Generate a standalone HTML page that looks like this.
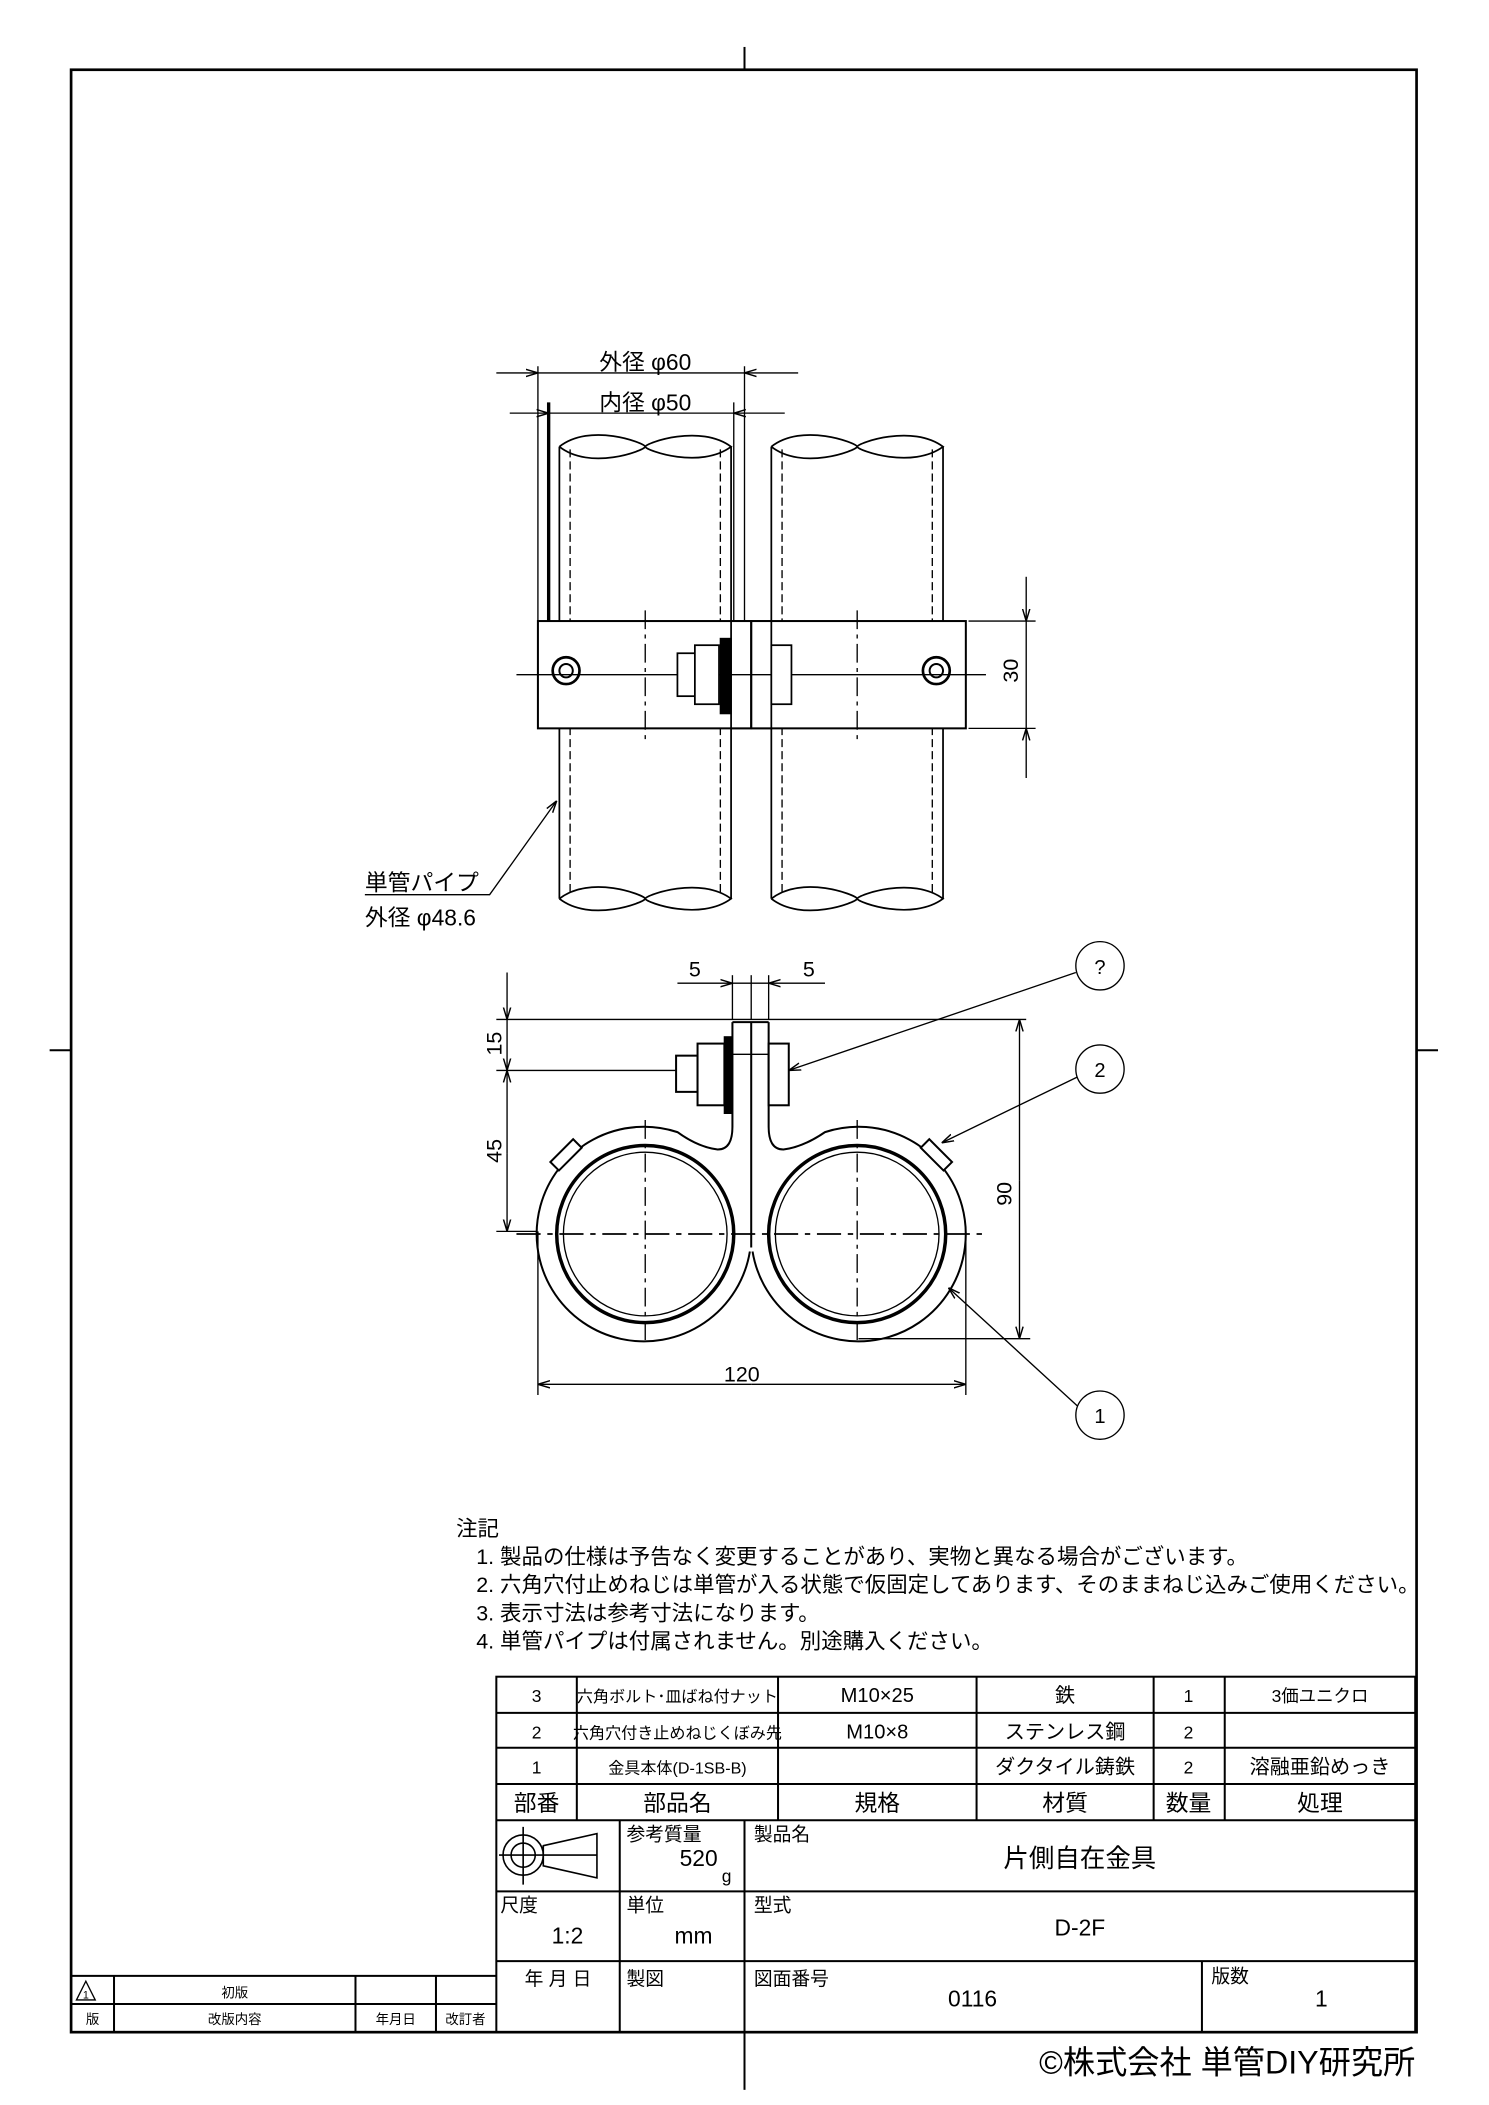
<!DOCTYPE html>
<html><head><meta charset="utf-8"><style>
html,body{margin:0;padding:0;background:#fff}
svg{display:block}
text{font-family:"Liberation Sans","Noto Sans CJK JP",sans-serif;fill:#000}
</style></head><body>
<svg width="1489" height="2105" viewBox="0 0 1110 1569.3" preserveAspectRatio="none" xmlns="http://www.w3.org/2000/svg">
<defs>
<marker id="a" viewBox="0 0 10 10" refX="10" refY="5" markerWidth="9" markerHeight="9" orient="auto-start-reverse" markerUnits="userSpaceOnUse"><path d="M0,2 L10,5 L0,8" fill="none" stroke="#000" stroke-width="1.2"/></marker>
</defs>
<g fill="none" stroke="#000">
<!-- frame -->
<rect x="53" y="52" width="1003" height="1463" stroke-width="2"/>
<line x1="555" y1="35" x2="555" y2="52" stroke-width="1.5"/>
<line x1="555" y1="1515" x2="555" y2="1558" stroke-width="1.5"/>
<line x1="37" y1="783" x2="53" y2="783" stroke-width="1.5"/>
<line x1="1056" y1="783" x2="1072" y2="783" stroke-width="1.5"/>

<!-- upper view pipes -->
<g stroke-width="1.3">
<path d="M417,333 L417,670 M545,333 L545,670 M575,333 L575,670 M703,333 L703,670"/>
<path d="M417,333 C440,315 480,330 481,333 C482,336 522,350 545,333 C522,316 482,330 481,333 C480,336 440,351 417,333"/>
<path d="M575,333 C598,315 638,330 639,333 C640,336 680,350 703,333 C680,316 640,330 639,333 C638,336 598,351 575,333"/>
<path d="M417,670 C440,652 480,667 481,670 C482,673 522,687 545,670 C522,653 482,667 481,670 C480,673 440,688 417,670"/>
<path d="M575,670 C598,652 638,667 639,670 C640,673 680,687 703,670 C680,653 640,667 639,670 C638,673 598,688 575,670"/>
</g>
<path d="M425,335 V668 M537,335 V668 M583,335 V668 M695,335 V668" stroke-dasharray="6,3" stroke-width="1"/>
<line x1="409" y1="300" x2="409" y2="463" stroke-width="2.5"/>
<line x1="547" y1="300" x2="547" y2="463" stroke-width="1"/>
<!-- plate -->
<rect x="401" y="463" width="319" height="80" fill="#fff" stroke-width="1.5"/>
<line x1="385" y1="503" x2="735" y2="503" stroke-width="1"/>
<path d="M481,455 V551 M639,455 V551" stroke-dasharray="14,4,3,4" stroke-width="1"/>
<circle cx="422" cy="500" r="10" stroke-width="2"/><circle cx="422" cy="500" r="5" stroke-width="1.5"/>
<circle cx="698" cy="500" r="10" stroke-width="2"/><circle cx="698" cy="500" r="5" stroke-width="1.5"/>
<rect x="505" y="487" width="17" height="32" fill="#fff" stroke-width="1.3"/>
<rect x="518" y="481" width="18" height="44" fill="#fff" stroke-width="1.3"/>
<rect x="537" y="476" width="8" height="56" fill="#000"/>
<rect x="545" y="463" width="15" height="80" stroke-width="1.3"/>
<rect x="560" y="463" width="15" height="80" stroke-width="1.3"/>
<rect x="575" y="481" width="15" height="44" fill="#fff" stroke-width="1.3"/>
<line x1="560" y1="463" x2="560" y2="543" stroke-width="1.5"/>

<!-- dims upper -->
<g stroke-width="1">
<line x1="401" y1="273" x2="401" y2="463"/>
<line x1="555" y1="273" x2="555" y2="463"/>
<line x1="370" y1="278" x2="401" y2="278" marker-end="url(#a)"/>
<line x1="401" y1="278" x2="555" y2="278"/>
<line x1="595" y1="278" x2="555" y2="278" marker-end="url(#a)"/>
<line x1="380" y1="308" x2="409" y2="308" marker-end="url(#a)"/>
<line x1="409" y1="308" x2="547" y2="308"/>
<line x1="585" y1="308" x2="547" y2="308" marker-end="url(#a)"/>
<line x1="722" y1="463" x2="772" y2="463"/>
<line x1="722" y1="543" x2="772" y2="543"/>
<line x1="765" y1="430" x2="765" y2="463" marker-end="url(#a)"/>
<line x1="765" y1="463" x2="765" y2="543"/>
<line x1="765" y1="580" x2="765" y2="543" marker-end="url(#a)"/>
<polyline points="272,667 365,667 415,597" marker-end="url(#a)"/>
</g>

<!-- lower view -->
<g stroke-width="1.5">
<path d="M546,762 V840 Q546,857 535,857 Q520,855 505,844 A80,80 0 1 0 559,933"/>
<path d="M573,762 V840 Q573,857 584,857 Q599,855 615,844 A80,80 0 1 1 561,933"/>
<line x1="546" y1="762" x2="573" y2="762"/>
<circle cx="481" cy="920" r="66" stroke-width="2.6"/><circle cx="639" cy="920" r="66" stroke-width="2.6"/>
<circle cx="481" cy="920" r="61" stroke-width="1"/><circle cx="639" cy="920" r="61" stroke-width="1"/>
<rect x="469" y="832" width="24" height="9" fill="#fff" transform="rotate(-45 481 920)"/>
<rect x="627" y="832" width="24" height="9" fill="#fff" transform="rotate(45 639 920)"/>
</g>
<line x1="560" y1="762" x2="560" y2="930" stroke-width="1.5"/>
<line x1="546" y1="786" x2="573" y2="786" stroke-width="1"/>
<rect x="504" y="787" width="16" height="27" fill="#fff" stroke-width="1.5"/>
<rect x="520" y="778" width="20" height="46" fill="#fff" stroke-width="1.5"/>
<rect x="540" y="773" width="5" height="57" fill="#000"/>
<rect x="573" y="778" width="15" height="46" fill="#fff" stroke-width="1.5"/>
<line x1="385" y1="920" x2="735" y2="920" stroke-dasharray="18,5,4,5" stroke-width="1.3"/>
<path d="M481,835 V1000 M639,835 V1000" stroke-dasharray="14,4,3,4" stroke-width="1"/>

<g stroke-width="1">
<line x1="370" y1="760" x2="765" y2="760"/>
<line x1="370" y1="798" x2="504" y2="798"/>
<line x1="370" y1="918" x2="400" y2="918"/>
<line x1="378" y1="725" x2="378" y2="760" marker-end="url(#a)"/>
<line x1="378" y1="760" x2="378" y2="798" marker-end="url(#a)"/>
<line x1="378" y1="860" x2="378" y2="798" marker-end="url(#a)"/>
<line x1="378" y1="860" x2="378" y2="918" marker-end="url(#a)"/>
<line x1="640" y1="998" x2="768" y2="998"/>
<line x1="760" y1="880" x2="760" y2="760" marker-end="url(#a)"/>
<line x1="760" y1="880" x2="760" y2="998" marker-end="url(#a)"/>
<line x1="401" y1="918" x2="401" y2="1040"/>
<line x1="720" y1="918" x2="720" y2="1040"/>
<line x1="560" y1="1032" x2="401" y2="1032" marker-end="url(#a)"/>
<line x1="560" y1="1032" x2="720" y2="1032" marker-end="url(#a)"/>
<line x1="546" y1="727" x2="546" y2="760"/>
<line x1="560" y1="727" x2="560" y2="760"/>
<line x1="573" y1="727" x2="573" y2="760"/>
<line x1="505" y1="733" x2="546" y2="733" marker-end="url(#a)"/>
<line x1="615" y1="733" x2="573" y2="733" marker-end="url(#a)"/>
<line x1="546" y1="733" x2="573" y2="733"/>
<circle cx="820" cy="720" r="18"/>
<circle cx="820" cy="797" r="18"/>
<circle cx="820" cy="1055" r="18"/>
<line x1="802" y1="725" x2="588" y2="798" marker-end="url(#a)"/>
<line x1="803" y1="803" x2="702" y2="852" marker-end="url(#a)"/>
<line x1="803" y1="1048" x2="707" y2="960" marker-end="url(#a)"/>
</g>

<!-- parts table -->
<g stroke-width="1.5">
<rect x="370" y="1250" width="685" height="265"/>
<path d="M370,1277 H1055 M370,1303 H1055 M370,1330 H1055 M370,1357 H1055 M370,1410 H1055 M370,1462 H1055"/>
<path d="M430,1250 V1357 M580,1250 V1357 M728,1250 V1357 M860,1250 V1357 M913,1250 V1357"/>
<path d="M462,1357 V1515 M555,1357 V1515 M896,1462 V1515"/>
<path d="M53,1473 H370 M53,1494 H370 M85,1473 V1515 M265,1473 V1515 M325,1473 V1515"/>
</g>
<g stroke-width="1.2">
<circle cx="390" cy="1383" r="15"/><circle cx="390" cy="1383" r="9"/>
<path d="M390,1362 V1405 M372,1383 H445 M405,1376 L445,1367 V1400 L405,1391 Z"/>
</g>
<path d="M57,1491 L64,1477 L71,1491 Z" stroke-width="1"/>
</g>

<g font-size="16">
<text x="481" y="276" text-anchor="middle" font-size="17">外径 φ60</text>
<text x="481" y="306" text-anchor="middle" font-size="17">内径 φ50</text>
<text x="272" y="664" font-size="17">単管パイプ</text>
<text x="272" y="690" font-size="17">外径 φ48.6</text>
<text transform="translate(759,500) rotate(-90)" text-anchor="middle" font-size="16">30</text>
<text transform="translate(374,778) rotate(-90)" text-anchor="middle" font-size="16">15</text>
<text transform="translate(374,858) rotate(-90)" text-anchor="middle" font-size="16">45</text>
<text transform="translate(754,890) rotate(-90)" text-anchor="middle" font-size="16">90</text>
<text x="553" y="1030" text-anchor="middle">120</text>
<text x="518" y="728" text-anchor="middle">5</text>
<text x="603" y="728" text-anchor="middle">5</text>
<text x="820" y="726" text-anchor="middle" font-size="15">?</text>
<text x="820" y="803" text-anchor="middle" font-size="15">2</text>
<text x="820" y="1061" text-anchor="middle" font-size="15">1</text>

<text x="340" y="1145" font-size="16">注記</text>
<text x="355" y="1166" font-size="16">1. 製品の仕様は予告なく変更することがあり、実物と異なる場合がございます。</text>
<text x="355" y="1187" font-size="16">2. 六角穴付止めねじは単管が入る状態で仮固定してあります、そのままねじ込みご使用ください。</text>
<text x="355" y="1208" font-size="16">3. 表示寸法は参考寸法になります。</text>
<text x="355" y="1229" font-size="16">4. 単管パイプは付属されません。別途購入ください。</text>

<g font-size="13" text-anchor="middle">
<text x="400" y="1269">3</text><text x="505" y="1269" font-size="12">六角ボルト･皿ばね付ナット</text><text x="654" y="1269" font-size="15">M10×25</text><text x="794" y="1269" font-size="15">鉄</text><text x="886" y="1269">1</text><text x="984" y="1269">3価ユニクロ</text>
<text x="400" y="1296">2</text><text x="505" y="1296" font-size="12">六角穴付き止めねじくぼみ先</text><text x="654" y="1296" font-size="15">M10×8</text><text x="794" y="1296" font-size="15">ステンレス鋼</text><text x="886" y="1296">2</text>
<text x="400" y="1322">1</text><text x="505" y="1322" font-size="12">金具本体(D-1SB-B)</text><text x="794" y="1322" font-size="15">ダクタイル鋳鉄</text><text x="886" y="1322">2</text><text x="984" y="1322" font-size="15">溶融亜鉛めっき</text>
<g font-size="17"><text x="400" y="1350">部番</text><text x="505" y="1350">部品名</text><text x="654" y="1350">規格</text><text x="794" y="1350">材質</text><text x="886" y="1350">数量</text><text x="984" y="1350">処理</text></g>
</g>
<text x="467" y="1372" font-size="14">参考質量</text>
<text x="535" y="1391" font-size="17" text-anchor="end">520</text>
<text x="538" y="1403" font-size="13">g</text>
<text x="562" y="1372" font-size="14">製品名</text>
<text x="805" y="1392" font-size="19" text-anchor="middle">片側自在金具</text>
<text x="373" y="1425" font-size="14">尺度</text>
<text x="423" y="1449" font-size="17" text-anchor="middle">1:2</text>
<text x="467" y="1425" font-size="14">単位</text>
<text x="517" y="1449" font-size="17" text-anchor="middle">mm</text>
<text x="562" y="1425" font-size="14">型式</text>
<text x="805" y="1443" font-size="17" text-anchor="middle">D-2F</text>
<text x="416" y="1480" font-size="14" text-anchor="middle">年 月 日</text>
<text x="467" y="1480" font-size="14">製図</text>
<text x="562" y="1480" font-size="14">図面番号</text>
<text x="725" y="1496" font-size="17" text-anchor="middle">0116</text>
<text x="903" y="1478" font-size="14">版数</text>
<text x="985" y="1496" font-size="17" text-anchor="middle">1</text>
<g font-size="10" text-anchor="middle">
<text x="64" y="1490" font-size="8">1</text>
<text x="175" y="1489">初版</text>
<text x="69" y="1509">版</text><text x="175" y="1509">改版内容</text><text x="295" y="1509">年月日</text><text x="347" y="1509">改訂者</text>
</g>
<text x="1055" y="1546" font-size="24" text-anchor="end">©株式会社 単管DIY研究所</text>
</g>
</svg>
</body></html>
